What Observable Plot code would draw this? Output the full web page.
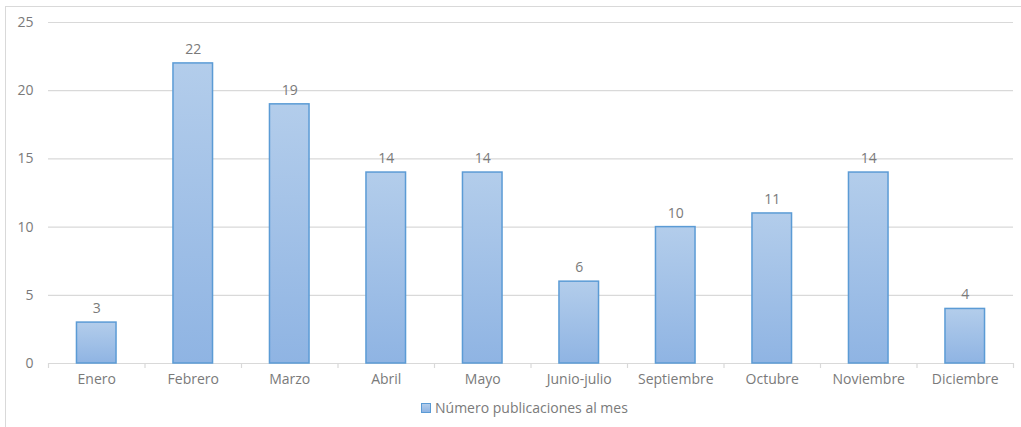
<!DOCTYPE html>
<html>
<head>
<meta charset="utf-8">
<script src="https://cdn.jsdelivr.net/npm/d3@7"></script>
<script src="https://cdn.jsdelivr.net/npm/@observablehq/plot@0.6"></script>
<style>
  html, body { margin: 0; padding: 0; background: #fff; }
  body { width: 1021px; height: 427px; position: relative; overflow: hidden; font-family: "Open Sans", sans-serif; }
  #frame { position: absolute; left: 5px; top: 6px; width: 1100px; height: 500px; border: 1px solid #d9d9d9; box-sizing: border-box; }
  #chart { position: absolute; left: 0; top: 0; }
  #legend { position: absolute; left: 421px; top: 398px; font-size: 14px; color: #7a7a7a; display: flex; align-items: center; white-space: nowrap; }
  #legend .sw { width: 8px; height: 8px; border: 1px solid #5b9bd5; background: linear-gradient(#b3cdeb, #8fb4e3); margin-right: 4px; }
</style>
</head>
<body>
<div id="frame"></div>
<div id="chart"></div>
<div id="legend"><span class="sw"></span><span>Número publicaciones al mes</span></div>
<script>
const months = ["Enero", "Febrero", "Marzo", "Abril", "Mayo", "Junio-julio", "Septiembre", "Octubre", "Noviembre", "Diciembre"];
const counts = [3, 22, 19, 14, 14, 6, 10, 11, 14, 4];
const yTicks = [0, 5, 10, 15, 20, 25];

const data = months.map((m, i) => ({month: m, value: counts[i]}));

const W = 1021, H = 392, mL = 48, mR = 8;
const band = (W - mL - mR) / months.length;
const textColor = "#7a7a7a";

const plot = Plot.plot({
  width: W,
  height: H,
  marginLeft: mL,
  marginRight: mR,
  marginTop: 22,
  marginBottom: 29,
  style: {fontFamily: "Open Sans, sans-serif", fontSize: "14px", color: textColor, background: "transparent", overflow: "visible"},
  x: {domain: months, paddingInner: 0.59, paddingOuter: 0.295, round: false, label: null, tickSize: 0, tickPadding: 9},
  y: {domain: [0, 25], ticks: yTicks, label: null, tickSize: 0, tickPadding: 15},
  marks: [
    Plot.ruleY(yTicks.filter(d => d > 0), {stroke: "#d9d9d9", strokeWidth: 1.2}),
    Plot.ruleY([0], {stroke: "#d9d9d9", strokeWidth: 1.2}),
    Plot.ruleX(months, {x: d => d, y1: 0, y2: 0, insetBottom: -5, dx: -band / 2, stroke: "#d9d9d9", strokeWidth: 1.2}),
    Plot.ruleX(months.slice(-1), {x: d => d, y1: 0, y2: 0, insetBottom: -5, dx: band / 2, stroke: "#d9d9d9", strokeWidth: 1.2}),
    Plot.barY(data, {x: "month", y: "value", fill: "#a3c2e7", stroke: "#5b9bd5", strokeWidth: 1.5, className: "bars"}),
    Plot.text(data, {x: "month", y: "value", text: d => String(d.value), dy: -14, fill: textColor, fontSize: 14}),
    Plot.axisX({tickSize: 0, tickPadding: 11, fill: textColor}),
    Plot.axisY({ticks: yTicks, tickSize: 0, tickPadding: 15, fill: textColor})
  ]
});

// gradient for bars
const svg = d3.select(plot);
const defs = svg.insert("defs", ":first-child");
const grad = defs.append("linearGradient").attr("id", "barGrad").attr("x1", 0).attr("y1", 0).attr("x2", 0).attr("y2", 1);
grad.append("stop").attr("offset", "0%").attr("stop-color", "#b3cdeb");
grad.append("stop").attr("offset", "100%").attr("stop-color", "#8fb4e3");
svg.selectAll(".bars rect").attr("fill", "url(#barGrad)");

document.getElementById("chart").appendChild(plot);
</script>
</body>
</html>
